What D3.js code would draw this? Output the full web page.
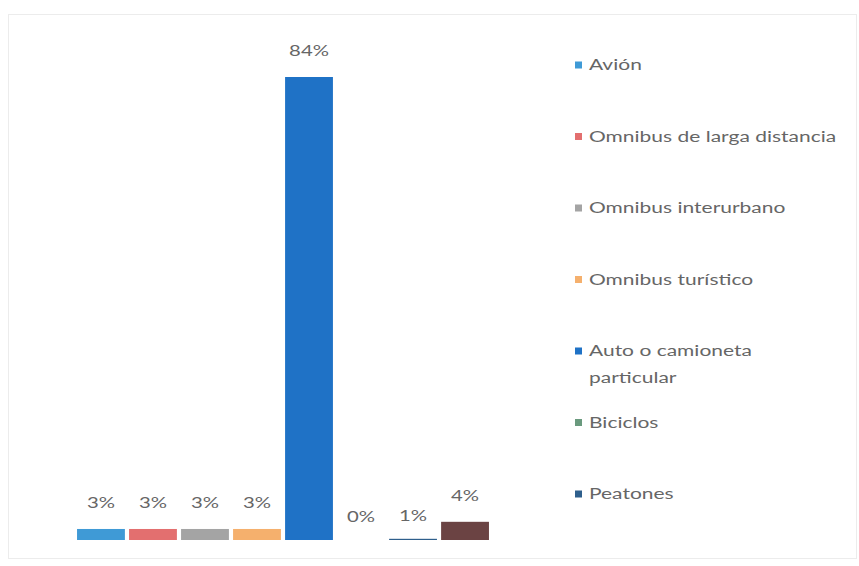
<!DOCTYPE html>
<html>
<head>
<meta charset="utf-8">
<script src="https://d3js.org/d3.v7.min.js"></script>
<style>
  body { margin: 0; background: #fff; }
  text { font-family: Lato, "Open Sans", sans-serif; fill: #666666; }
</style>
</head>
<body>
<script>
// data (bar heights as drawn, labels as printed)
var categories = ["Avión", "Omnibus de larga distancia", "Omnibus interurbano", "Omnibus turístico",
                  "Auto o camioneta particular", "Biciclos", "Peatones", "Otros"];
var values = [2, 2, 2, 2, 84, 0, 0.2, 3.3];
var valueLabels = ["3%", "3%", "3%", "3%", "84%", "0%", "1%", "4%"];
var legendNames = [["Avión"], ["Omnibus de larga distancia"], ["Omnibus interurbano"], ["Omnibus turístico"],
                   ["Auto o camioneta", "particular"], ["Biciclos"], ["Peatones"]];
var colors = ["#3f9ad6", "#e36f6f", "#a4a4a4", "#f5b06d", "#1f72c6", "#6a9a7e", "#2e5f8c", "#6b4343"];

var W = 859, H = 566;
var stretch = 1.4; // the picture is wider than tall, text looks stretched
var svg = d3.select("body").append("svg")
    .attr("width", W)
    .attr("height", H);

// faint frame of the chart area
svg.append("rect")
    .attr("x", 8.5).attr("y", 14.5)
    .attr("width", 848).attr("height", 544)
    .attr("fill", "none")
    .attr("stroke", "#ececec");

var x = d3.scaleBand().domain(categories).range([76, 490]).paddingInner(0.08).paddingOuter(0.02);
var y = d3.scaleLinear().domain([0, 84]).range([540, 77]);

svg.selectAll(".bar")
    .data(values)
    .enter().append("rect")
    .attr("class", "bar")
    .attr("x", function(d, i) { return x(categories[i]); })
    .attr("width", x.bandwidth())
    .attr("y", function(d) { return Math.min(y(d), y(0) - 1.2 * (d > 0)); })
    .attr("height", function(d) { return d > 0 ? Math.max(1.2, y(0) - y(d)) : 0; })
    .attr("fill", function(d, i) { return colors[i]; });

svg.selectAll(".lbl")
    .data(values)
    .enter().append("text")
    .attr("class", "lbl")
    .attr("transform", function(d, i) {
        var cx = x(categories[i]) + x.bandwidth() / 2;
        var ty = d < 1 ? y(d) - 18 : y(d) - 21;
        return "translate(" + cx + "," + ty + ") scale(" + stretch + ",1)";
    })
    .attr("text-anchor", "middle")
    .attr("font-size", 14.5)
    .text(function(d, i) { return valueLabels[i]; });

// legend
var leg = svg.selectAll(".leg")
    .data(legendNames)
    .enter().append("g")
    .attr("class", "leg")
    .attr("transform", function(d, i) { return "translate(575," + (65 + i * 71.5) + ")"; });

leg.append("rect")
    .attr("x", 0).attr("y", -3.5)
    .attr("width", 7).attr("height", 7)
    .attr("fill", function(d, i) { return colors[i]; });

var lt = leg.append("text")
    .attr("transform", "translate(14,5) scale(" + stretch + ",1)")
    .attr("font-size", 15);

lt.selectAll("tspan")
    .data(function(d) { return d; })
    .enter().append("tspan")
    .attr("x", 0)
    .attr("dy", function(d, i) { return i === 0 ? 0 : 27; })
    .text(function(d) { return d; });
</script>
</body>
</html>
